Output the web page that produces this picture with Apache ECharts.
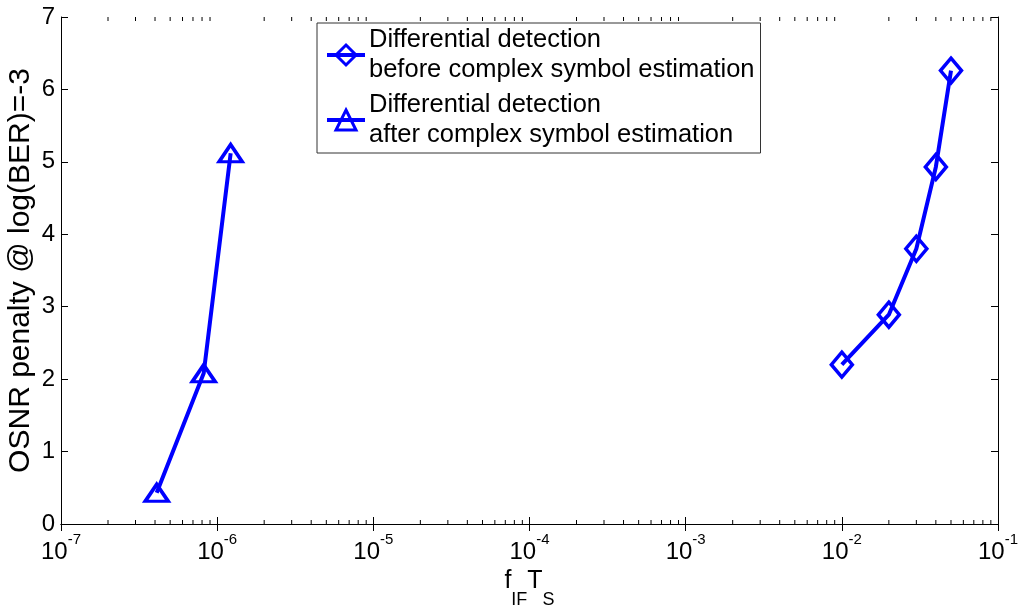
<!DOCTYPE html>
<html><head><meta charset="utf-8">
<script src="https://cdn.jsdelivr.net/npm/echarts@6/dist/echarts.min.js"></script>
<style>html,body{margin:0;padding:0;background:#fff}#c{width:1021px;height:607px}</style>
</head><body><div id="c"></div>
<script>
const xBefore = [0.01, 0.02, 0.03, 0.04, 0.05];
const yBefore = [2.2, 2.89, 3.8, 4.93, 6.26];
const xAfter = [4.1e-7, 8.2e-7, 1.22e-6];
const yAfter = [0.43, 2.08, 5.12];
const nameBefore = 'Differential detection\nbefore complex symbol estimation';
const nameAfter = 'Differential detection\nafter complex symbol estimation';
const decades = [-7, -6, -5, -4, -3, -2];

const minorVals = [];
decades.forEach(d => { for (let m = 2; m <= 9; m++) minorVals.push([m * Math.pow(10, d)]); });

const FONT = '"Liberation Sans", Arial, sans-serif';
const blue = '#0000ff';

const chart = echarts.init(document.getElementById('c'), null, {renderer: 'canvas'});
const logLabel = v => {
  const e = Math.round(Math.log10(v));
  return '{b|10}{s|' + e + '}';
};
const tickStyle = {show: true, inside: true, length: 7, lineStyle: {color: '#000'}};
chart.setOption({
  backgroundColor: '#fff',
  animation: false,
  grid: {left: 61, right: 23, top: 17, bottom: 83, containLabel: false, outerBoundsMode: 'none'},
  legend: {
    data: [nameBefore, nameAfter],
    left: 317, top: 23,
    orient: 'vertical',
    backgroundColor: '#fff',
    borderColor: '#333', borderWidth: 1,
    padding: [2, 6, 3, 8],
    itemGap: 5, itemWidth: 38, itemHeight: 25,
    lineStyle: {width: 4},
    itemStyle: {borderWidth: 3},
    textStyle: {fontFamily: FONT, fontSize: 25.5, color: '#000', lineHeight: 30, padding: [0, 0, 0, -1]}
  },
  xAxis: [{
    type: 'log', logBase: 10, min: 1e-7, max: 1e-1,
    axisLine: {show: true, lineStyle: {color: '#000', width: 1}},
    axisTick: tickStyle,
    splitLine: {show: false},
    axisLabel: {
      formatter: logLabel, margin: 8,
      rich: {
        b: {fontFamily: FONT, fontSize: 24, color: '#000', verticalAlign: 'bottom', padding: [8, 0, 0, 0]},
        s: {fontFamily: FONT, fontSize: 15, color: '#000', verticalAlign: 'top', padding: [0, 0, 14, 0]}
      }
    },
    name: '{f|f}{sub|IF}{f|T}{sub|S}',
    nameLocation: 'middle', nameGap: 45, nameMoveOverlap: false,
    nameTextStyle: {
      verticalAlign: 'top',
      rich: {
        f: {fontFamily: FONT, fontSize: 25, color: '#000', verticalAlign: 'top', lineHeight: 25},
        sub: {fontFamily: FONT, fontSize: 18, color: '#000', verticalAlign: 'top', lineHeight: 18, padding: [22, 0, 0, 0]}
      }
    }
  }, {
    type: 'log', logBase: 10, min: 1e-7, max: 1e-1, position: 'top',
    axisLine: {show: true, lineStyle: {color: '#000', width: 1}},
    axisTick: tickStyle,
    axisLabel: {show: false}, splitLine: {show: false}
  }],
  yAxis: [{
    type: 'value', min: 0, max: 7, interval: 1,
    axisLine: {show: true, lineStyle: {color: '#000', width: 1}},
    axisTick: tickStyle,
    splitLine: {show: false},
    axisLabel: {fontFamily: FONT, fontSize: 24, color: '#000', margin: 6},
    name: 'OSNR penalty @ log(BER)=-3',
    nameLocation: 'middle', nameGap: 25, nameRotate: 90, nameMoveOverlap: false,
    nameTextStyle: {fontFamily: FONT, fontSize: 30, color: '#000'}
  }, {
    type: 'value', min: 0, max: 7, interval: 1, position: 'right',
    axisLine: {show: true, lineStyle: {color: '#000', width: 1}},
    axisTick: tickStyle,
    axisLabel: {show: false}, splitLine: {show: false}
  }],
  series: [
    {
      name: nameBefore, type: 'line',
      data: xBefore.map((x, i) => [x, yBefore[i]]),
      color: blue,
      symbol: 'diamond', symbolSize: [21, 25],
      lineStyle: {color: blue, width: 4},
      itemStyle: {color: 'rgba(255,255,255,0)', borderColor: blue, borderWidth: 3.5},
      z: 5
    },
    {
      name: nameAfter, type: 'line',
      data: xAfter.map((x, i) => [x, yAfter[i]]),
      color: blue,
      symbol: 'triangle', symbolSize: [23, 17],
      lineStyle: {color: blue, width: 4},
      itemStyle: {color: 'rgba(255,255,255,0)', borderColor: blue, borderWidth: 3.5},
      z: 5
    },
    {
      type: 'custom', name: 'minor', silent: true, clip: false,
      data: minorVals,
      encode: {x: 0},
      renderItem: (params, api) => {
        const v = api.value(0);
        const b = api.coord([v, 0]);
        const t = api.coord([v, 7]);
        const st = {stroke: '#000', lineWidth: 1};
        return {type: 'group', children: [
          {type: 'line', shape: {x1: b[0], y1: b[1], x2: b[0], y2: b[1] - 4}, style: st},
          {type: 'line', shape: {x1: t[0], y1: t[1], x2: t[0], y2: t[1] + 4}, style: st}
        ]};
      }
    }
  ]
});
</script></body></html>
